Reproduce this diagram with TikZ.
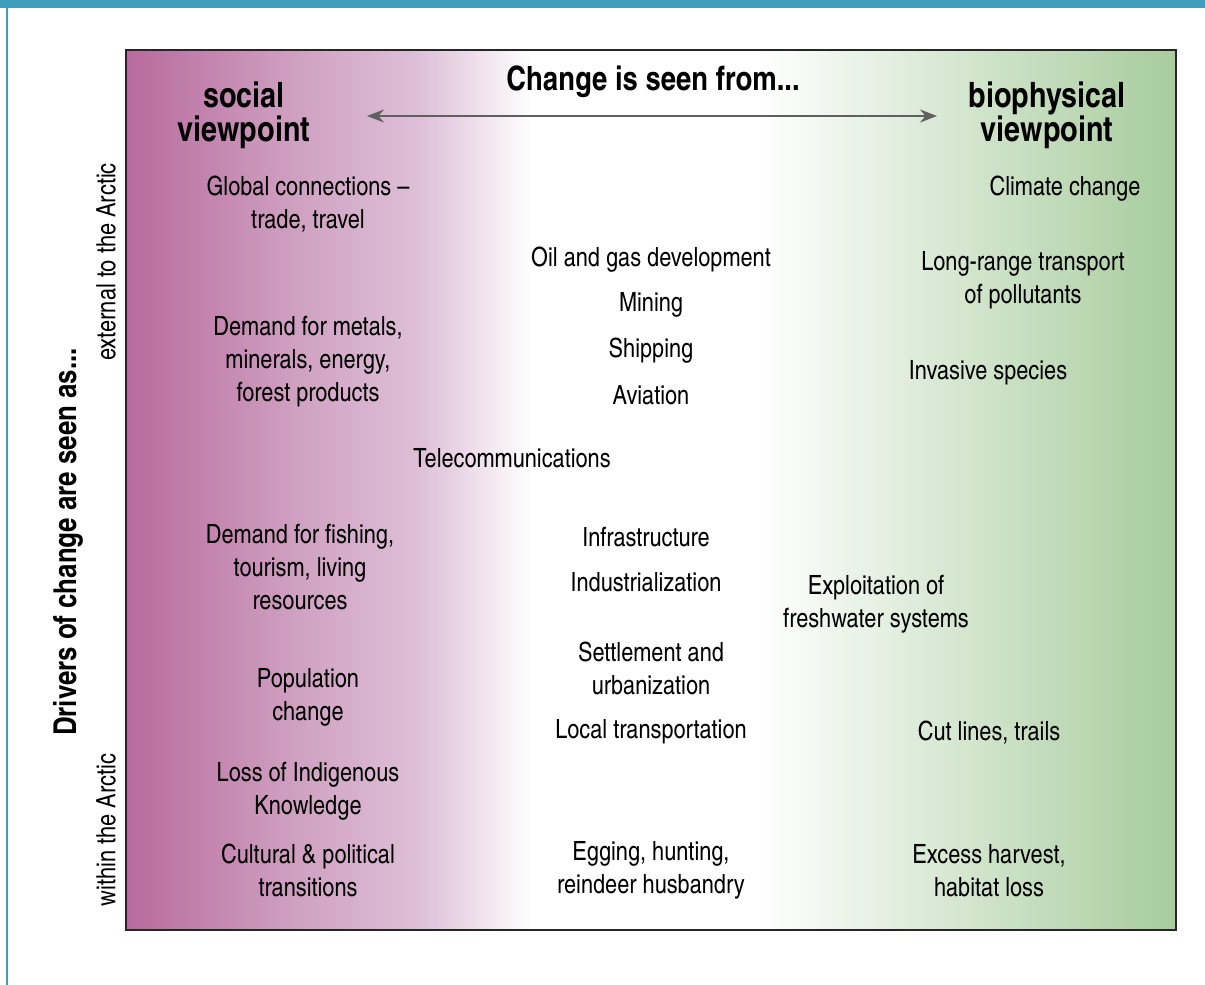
\documentclass[tikz,border=0pt]{standalone}
\usepackage{fontspec}
\setmainfont{texgyreheroscn}[Extension=.otf, UprightFont=*-regular, BoldFont=*-bold]
\usepackage{tikz}
\usetikzlibrary{arrows.meta}
\definecolor{arcteal}{RGB}{62, 158, 188}
\definecolor{socpurple}{RGB}{184, 106, 158}
\definecolor{socmid}{RGB}{208, 162, 194}
\definecolor{soclight}{RGB}{222, 192, 216}
\definecolor{biogreen}{RGB}{167, 204, 157}
\definecolor{arrowgray}{RGB}{96, 96, 96}
% purple -> white -> green across the frame
\pgfdeclarehorizontalshading{viewshade}{100bp}{color(0bp)=(socpurple); color(25bp)=(socpurple);
  color(33.3bp)=(socmid); color(39bp)=(soclight); color(44.3bp)=(white); color(55.1bp)=(white);
  color(75bp)=(biogreen); color(100bp)=(biogreen)}

\begin{document}
\begin{tikzpicture}[x=1pt, y=-1pt,
    driver/.style={align=center, inner sep=0pt, yshift=-2.5pt, font=\fontsize{26.5}{33}\selectfont},
    viewtitle/.style={align=center, inner sep=0pt, font=\fontsize{35}{34}\selectfont\bfseries},
    sidelabel/.style={rotate=90, inner sep=0pt, font=\fontsize{26.6}{33}\selectfont}]
    \useasboundingbox (0,0) rectangle (1205,985);
    % frame of the page
    \fill[arcteal] (0,0) rectangle (1205,8);
    \fill[arcteal] (6,0) rectangle (8,985);
    \path[shading=viewshade, draw=black!85, line width=1.2pt] (126,50) rectangle (1176,930);

    % heading and the two viewpoints
    \node[viewtitle, font=\fontsize{33.5}{34}\selectfont\bfseries] (seen) at (653,82) {Change is seen from...};
    \node[viewtitle] (social) at (244,115) {social\\viewpoint};
    \node[viewtitle] (bio) at (1047,115) {biophysical\\viewpoint};
    \coordinate (socend) at (367,116);
    \coordinate (bioend) at (937,116);
    \draw[arrowgray, line width=2pt, {Stealth[length=17pt,width=13pt]}-{Stealth[length=17pt,width=13pt]}] (socend) -- (bioend);

    % axis at the left
    \node[sidelabel, font=\fontsize{31.5}{33}\selectfont\bfseries] (drivers) at (68,542) {Drivers of change are seen as...};
    \node[sidelabel] (external) at (106,262) {external to the Arctic};
    \node[sidelabel] (within) at (106,830) {within the Arctic};

    % social side
    \node[driver] (global) at (308,202) {Global connections --\\trade, travel};
    \node[driver] (metals) at (308,359) {Demand for metals,\\minerals, energy,\\forest products};
    \node[driver] (fishing) at (300,565) {Demand for fishing,\\tourism, living\\resources};
    \node[driver] (population) at (308,695) {Population\\change};
    \node[driver] (knowledge) at (308,789) {Loss of Indigenous\\Knowledge};
    \node[driver] (cultural) at (308,868) {Cultural \& political\\transitions};

    % middle
    \node[driver] (oilgas) at (651,257) {Oil and gas development};
    \node[driver] (mining) at (651,302) {Mining};
    \node[driver] (shipping) at (651,348) {Shipping};
    \node[driver] (aviation) at (651,393) {Aviation};
    \node[driver] (telecom) at (512,456) {Telecommunications};
    \node[driver] (infra) at (646,535) {Infrastructure};
    \node[driver] (industry) at (646,580) {Industrialization};
    \node[driver] (settlement) at (651,666) {Settlement and\\urbanization};
    \node[driver] (localtrans) at (651,729) {Local transportation};
    \node[driver] (egging) at (651,868) {Egging, hunting,\\reindeer husbandry};

    % biophysical side
    \node[driver] (climate) at (1065,186) {Climate change};
    \node[driver] (pollutants) at (1023,278) {Long-range transport\\of pollutants};
    \node[driver] (invasive) at (988,370) {Invasive species};
    \node[driver] (freshwater) at (876,602) {Exploitation of\\freshwater systems};
    \node[driver] (cutlines) at (989,730) {Cut lines, trails};
    \node[driver] (harvest) at (989,868) {Excess harvest,\\habitat loss};
\end{tikzpicture}
\end{document}
